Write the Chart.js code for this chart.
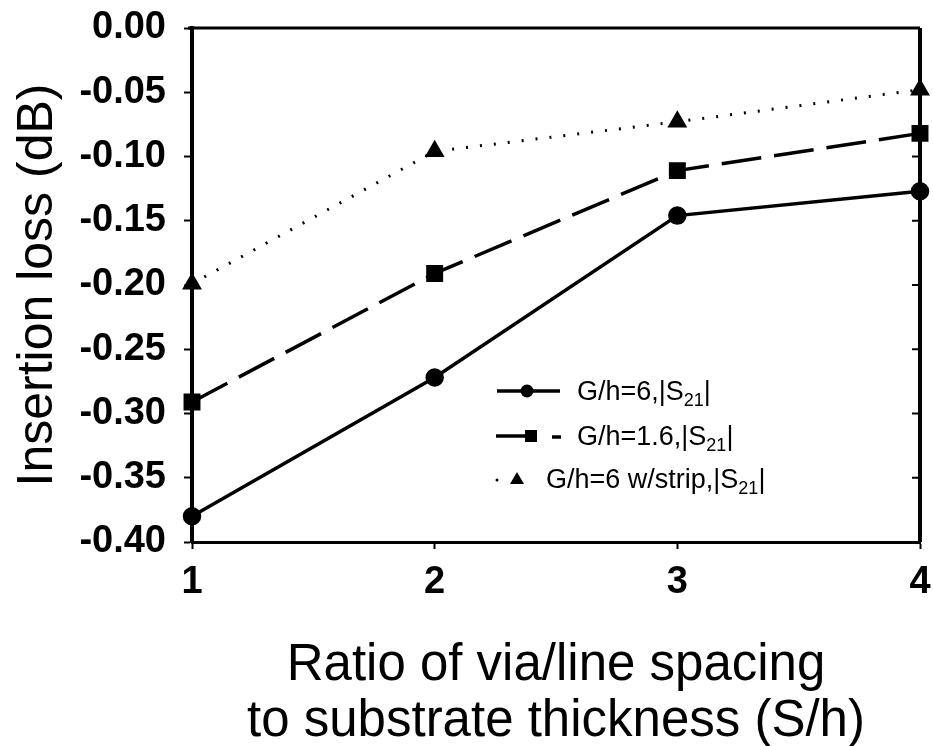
<!DOCTYPE html>
<html lang="en">
<head>
<meta charset="utf-8" />
<title>Insertion loss vs S/h</title>
<style>
*{box-sizing:border-box;margin:0;padding:0}
body{background:#fff;font-family:"Liberation Sans",Arial,Helvetica,sans-serif}
.wrap{position:relative;width:933px;height:746px}
.legend{position:absolute;left:0;top:0;width:933px;height:746px;pointer-events:none}
.legend svg{position:absolute;left:0;top:0}
.legend .lbl{position:absolute;font-size:27px;line-height:28px;color:#000;white-space:nowrap;transform:translateY(-50%)}
.legend sub{font-size:18px;vertical-align:-6px;line-height:0}
</style>
</head>
<body>
<div class="wrap">
    <canvas id="chart"></canvas>
    <div class="legend">
        <svg width="933" height="746">
            <!-- row 1 : solid + circle -->
            <line x1="497" y1="391" x2="560" y2="391" stroke="#000" stroke-width="3.5"/>
            <circle cx="527" cy="391" r="6.5" fill="#000"/>
            <!-- row 2 : dashed + square -->
            <line x1="496" y1="436" x2="530" y2="436" stroke="#000" stroke-width="3.5"/>
            <rect x="525" y="430" width="12" height="12" fill="#000"/>
            <line x1="552" y1="437" x2="561" y2="437" stroke="#000" stroke-width="3.5"/>
            <!-- row 3 : dotted + triangle -->
            <circle cx="497" cy="480" r="1.5" fill="#000"/>
            <polygon points="517,472 524,484 510,484" fill="#000"/>
        </svg>
        <span class="lbl" style="left:577px;top:391px">G/h=6,|S<sub>21</sub>|</span>
        <span class="lbl" style="left:577px;top:436px">G/h=1.6,|S<sub>21</sub>|</span>
        <span class="lbl" style="left:546px;top:479px">G/h=6 w/strip,|S<sub>21</sub>|</span>
    </div>
</div>

<script src="https://cdn.jsdelivr.net/npm/chart.js@4.4.1"></script>
<script>

/* ─── data ─────────────────────────────────────────────── */
const ratios   = [1, 2, 3, 4];                       // S/h
const gh6      = [-0.380, -0.272, -0.146, -0.127];   // G/h=6, |S21|
const gh16     = [-0.291, -0.191, -0.111, -0.082];   // G/h=1.6, |S21|
const gh6strip = [-0.199, -0.096, -0.073, -0.048];   // G/h=6 w/strip, |S21|
const yTicks   = ['0.00','-0.05','-0.10','-0.15','-0.20','-0.25','-0.30','-0.35','-0.40'];

const FONT = '"Liberation Sans", Arial, Helvetica, sans-serif';
const pts = ys => ratios.map((x,i)=>({x, y:ys[i]}));

/* top + right frame with small inward ticks on the right side */
const frame = {
    id:'frame',
    beforeDatasetsDraw(chart){
        const {ctx, chartArea:a, scales:{y}} = chart;
        ctx.save();
        ctx.strokeStyle = '#000';
        ctx.lineWidth = 3;
        ctx.beginPath();
        ctx.moveTo(a.left-4, a.top); ctx.lineTo(a.right, a.top);
        ctx.stroke();
        ctx.lineWidth = 4;
        ctx.beginPath();
        ctx.moveTo(a.right, a.top); ctx.lineTo(a.right, a.bottom);
        ctx.stroke();
        ctx.lineWidth = 2;
        y.ticks.forEach(t=>{
            const py = y.getPixelForValue(t.value);
            ctx.beginPath();
            ctx.moveTo(a.right-8, py); ctx.lineTo(a.right, py);
            ctx.stroke();
        });
        ctx.restore();
    }
};

Chart.defaults.color = '#000';
Chart.defaults.font.family = FONT;

new Chart(document.getElementById('chart'), {
    type:'line',
    data:{
        datasets:[
            {label:'G/h=6,|S21|', data:pts(gh6), borderColor:'#000', backgroundColor:'#000',
             borderWidth:3.5, pointStyle:'circle', pointRadius:7.5, clip:false},
            {label:'G/h=1.6,|S21|', data:pts(gh16), borderColor:'#000', backgroundColor:'#000',
             borderWidth:3.5, borderDash:[40,13], pointStyle:'rect', pointRadius:9.5, clip:false},
            {label:'G/h=6 w/strip,|S21|', data:pts(gh6strip), borderColor:'#000', backgroundColor:'#000',
             borderWidth:3, borderDash:[2,12], pointStyle:'triangle', pointRadius:8.5, clip:false}
        ]
    },
    options:{
        responsive:true,
        maintainAspectRatio:false,
        animation:false,
        events:[],
        layout:{padding:{top:28, right:12, left:0, bottom:-3}},
        elements:{line:{tension:0}},
        plugins:{legend:{display:false}, tooltip:{enabled:false}},
        scales:{
            x:{
                type:'linear', min:1, max:4,
                afterFit:s=>{ s.height = 207; s.paddingLeft = 0; s.paddingRight = 0; },
                grid:{drawOnChartArea:false, tickLength:7, color:'#000', tickWidth:2},
                border:{color:'#000', width:3},
                ticks:{stepSize:1, padding:11, font:{size:38, weight:'bold'}},
                title:{display:true, text:['Ratio of via/line spacing','to substrate thickness (S/h)'],
                       font:{size:51, lineHeight:1.08}, padding:{top:0,bottom:0}}
            },
            y:{
                min:-0.40, max:0,
                afterFit:s=>{ s.width = 192; s.paddingTop = 0; s.paddingBottom = 0; },
                afterBuildTicks:s=>{ s.ticks = yTicks.map(v=>({value:+v})); },
                grid:{drawOnChartArea:false, tickLength:8, color:'#000', tickWidth:2},
                border:{color:'#000', width:4},
                ticks:{padding:18, font:{size:38, weight:'bold'},
                       callback:(v,i)=>yTicks[i]},
                title:{display:true, text:'Insertion loss (dB)',
                       font:{size:50, lineHeight:1.2}, padding:{top:8}}
            }
        }
    },
    plugins:[frame]
});
</script>
</body>
</html>
